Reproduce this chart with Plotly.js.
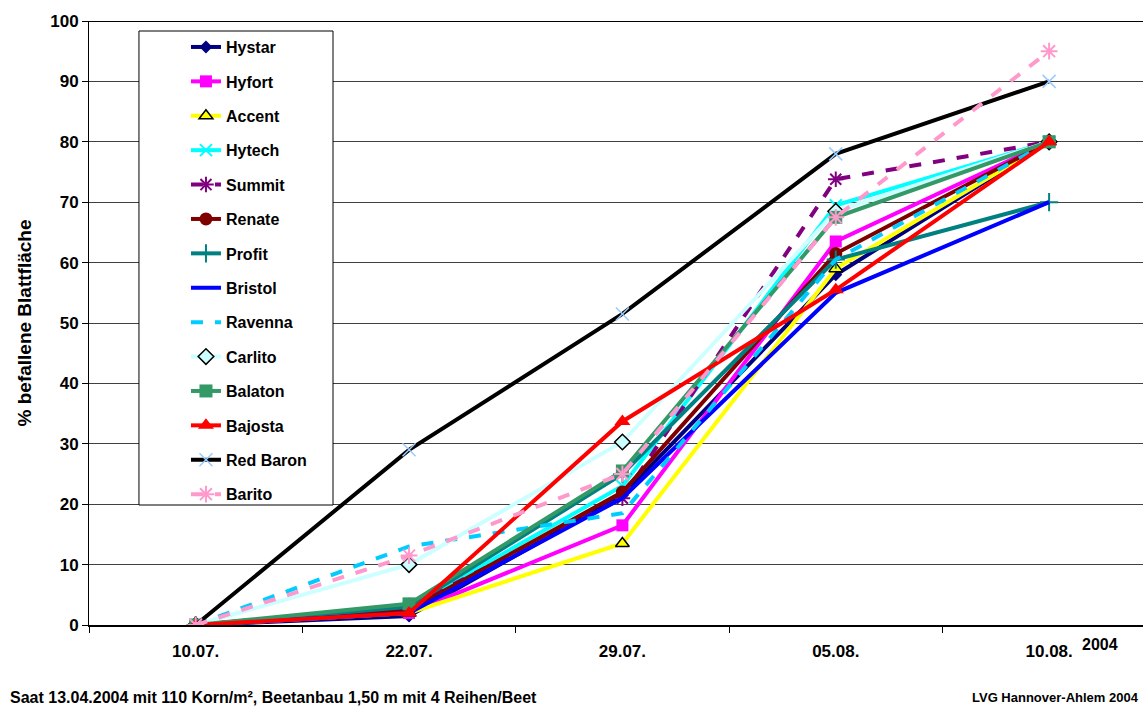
<!DOCTYPE html>
<html>
<head>
<meta charset="utf-8">
<script src="https://cdn.plot.ly/plotly-3.0.1.min.js"></script>
<style>
html,body{margin:0;padding:0;overflow:hidden;background:#fff;}
#chart{width:1143px;height:706px;}
</style>
</head>
<body>
<div id="chart"></div>
<script>
const dates = ["10.07.", "22.07.", "29.07.", "05.08.", "10.08."];
const yTicks = [0,10,20,30,40,50,60,70,80,90,100];

const hystar   = [0, 1.5, 21.5, 58, 80];
const hyfort   = [0, 2, 16.5, 63.5, 80];
const accent   = [0, 2, 13.5, 59, 80];
const hytech   = [0, 3, 23, 69.5, 80];
const summit   = [0, 3, 21, 73.8, 80];
const renate   = [0, 2.5, 22, 61.5, 80];
const profit   = [0, 3, 25, 60.5, 70];
const bristol  = [0, 2, 21, 55, 70];
const ravenna  = [0, 13, 18.5, 60.5, 80];
const carlito  = [0, 10, 30.3, 68.5, 80];
const balaton  = [0, 3.5, 25.5, 67.5, 80];
const bajosta  = [0, 2, 33.7, 55.5, 80];
const redBaron = [0, 29, 51.5, 78, 90];
const barito   = [0, 11.5, 25, 67.5, 95];

const series = [
  {name:"Hystar", y:hystar, color:"#000080", dash:"solid", marker:{symbol:"diamond", size:10, color:"#000080"}},
  {name:"Hyfort", y:hyfort, color:"#FF00FF", dash:"solid", marker:{symbol:"square", size:12, color:"#FF00FF"}},
  {name:"Accent", y:accent, color:"#FFFF00", dash:"solid", marker:{symbol:"triangle-up", size:12, color:"#FFFF00", line:{color:"#000", width:1.5}}},
  {name:"Hytech", y:hytech, color:"#00FFFF", dash:"solid", marker:{symbol:"x-thin-open", size:12, color:"#00FFFF", line:{color:"#00FFFF", width:2}}},
  {name:"Summit", y:summit, color:"#800080", dash:"12px,12px", marker:{symbol:"asterisk-open", size:13, color:"#800080", line:{color:"#800080", width:2}}},
  {name:"Renate", y:renate, color:"#800000", dash:"solid", marker:{symbol:"circle", size:13, color:"#800000"}},
  {name:"Profit", y:profit, color:"#008080", dash:"solid", marker:{symbol:"cross-thin-open", size:13, color:"#008080", line:{color:"#008080", width:2}}},
  {name:"Bristol", y:bristol, color:"#0000FF", dash:"solid", marker:null},
  {name:"Ravenna", y:ravenna, color:"#00CCFF", dash:"12px,12px", marker:null},
  {name:"Carlito", y:carlito, color:"#CCFFFF", dash:"solid", marker:{symbol:"diamond", size:12, color:"#CCFFFF", line:{color:"#000", width:1.5}}},
  {name:"Balaton", y:balaton, color:"#339966", dash:"solid", marker:{symbol:"square", size:13, color:"#339966"}},
  {name:"Bajosta", y:bajosta, color:"#FF0000", dash:"solid", marker:{symbol:"triangle-up", size:14, color:"#FF0000"}},
  {name:"Red Baron", y:redBaron, color:"#000000", dash:"solid", marker:{symbol:"x-thin-open", size:13, color:"#99CCFF", line:{color:"#99CCFF", width:1.5}}},
  {name:"Barito", y:barito, color:"#FF99CC", dash:"12px,12px", marker:{symbol:"asterisk-open", size:14, color:"#FF99CC", line:{color:"#FF99CC", width:2}}}
];

const traces = series.map((s, i) => {
  const t = {
    type: "scatter",
    x: dates,
    y: s.y,
    name: s.name,
    legendgroup: "g" + i,
    line: {color: s.color, width: 4, dash: s.dash},
    mode: s.marker ? "lines+markers" : "lines"
  };
  if (s.marker) t.marker = s.marker;
  return t;
});

const FAM = "Liberation Sans, Arial, sans-serif";
const bf = (size) => ({family: FAM, size: size, color: "#000", weight: "bold"});

const layout = {
  width: 1143,
  height: 706,
  margin: {l: 89, r: 0, t: 21, b: 81, pad: 0},
  paper_bgcolor: "#fff",
  plot_bgcolor: "#fff",
  showlegend: true,
  legend: {
    x: 0.092, y: 0.985, xanchor: "left", yanchor: "top",
    bgcolor: "rgba(0,0,0,0)", borderwidth: 0,
    font: bf(16),
    traceorder: "grouped",
    tracegroupgap: 10.6
  },
  xaxis: {
    type: "category",
    range: [-0.5, 4.44],
    tickson: "boundaries",
    ticks: "outside",
    ticklen: 6,
    tickcolor: "#000",
    ticklabelstandoff: 10,
    showline: true,
    linecolor: "#000",
    linewidth: 2,
    showgrid: false,
    zeroline: false,
    tickfont: bf(17),
    fixedrange: true
  },
  yaxis: {
    range: [0, 100],
    tickvals: yTicks,
    ticktext: yTicks.map(String),
    ticks: "outside",
    ticklen: 6,
    tickcolor: "#000",
    showline: true,
    linecolor: "#000",
    linewidth: 1,
    showgrid: true,
    gridcolor: "#404040",
    gridwidth: 1,
    zeroline: false,
    tickfont: bf(17),
    title: {text: "% befallene Blattfläche", font: bf(19), standoff: 13},
    fixedrange: true
  },
  shapes: [
    {type: "rect", xref: "paper", yref: "paper", x0: 0.0474, x1: 0.2315, y0: (625-505)/604, y1: (625-31)/604,
     fillcolor: "#fff", line: {color: "#000", width: 1}, layer: "above"},
    {type: "line", xref: "paper", yref: "y", x0: 0, x1: 1, y0: 100, y1: 100, line: {color: "#000", width: 2}, layer: "below"}
  ],
  annotations: [
    {text: "2004", xref: "paper", yref: "paper", x: (1100-89)/1054, y: -(644-625)/604, xanchor: "center", yanchor: "middle", showarrow: false, font: bf(16)},
    {text: "Saat 13.04.2004 mit 110 Korn/m², Beetanbau 1,50 m mit 4 Reihen/Beet", xref: "paper", yref: "paper", x: (8-89)/1054, y: -(697-625)/604, xanchor: "left", yanchor: "middle", showarrow: false, font: bf(16)},
    {text: "LVG Hannover-Ahlem 2004", xref: "paper", yref: "paper", x: (1141-89)/1054, y: -(697-625)/604, xanchor: "right", yanchor: "middle", showarrow: false, font: bf(13)}
  ]
};

Plotly.newPlot("chart", traces, layout, {displayModeBar: false, staticPlot: true});
</script>
</body>
</html>
